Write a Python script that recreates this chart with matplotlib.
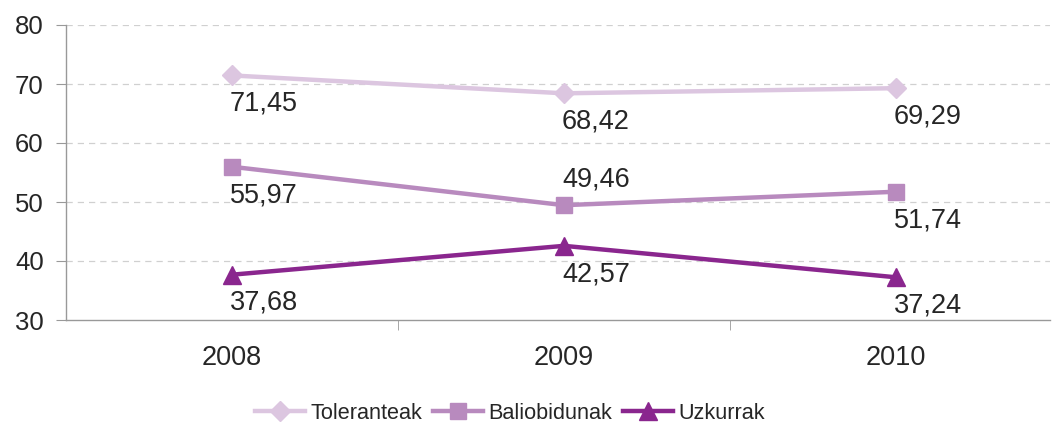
import matplotlib
matplotlib.use("Agg")
import matplotlib.pyplot as plt
from matplotlib.lines import Line2D

years = ["2008", "2009", "2010"]
toleranteak = [71.45, 68.42, 69.29]
baliobidunak = [55.97, 49.46, 51.74]
uzkurrak = [37.68, 42.57, 37.24]
series_names = ["Toleranteak", "Baliobidunak", "Uzkurrak"]
colors = ["#DCC6E0", "#B88ABE", "#8A268E"]
markers = ["D", "s", "^"]
# label placement: +1 above, -1 below
label_pos = [[-1, -1, -1], [-1, 1, -1], [-1, -1, -1]]

plt.rcParams['font.family'] = ['Liberation Sans', 'DejaVu Sans']

fig = plt.figure(figsize=(10.52, 4.25), dpi=100)
ax = fig.add_axes([66/1052, 105/425, (1050-66)/1052, 295/425])

x = list(range(len(years)))
msizes = [10, 12, 13]
for vals, name, c, m, pos, ms in zip([toleranteak, baliobidunak, uzkurrak], series_names, colors, markers, label_pos, msizes):
    ax.plot(x, vals, color=c, lw=3.2, marker=m, markersize=ms, label=name, zorder=3)
    for xi, v, p in zip(x, vals, pos):
        txt = f"{v:.2f}".replace(".", ",")
        if p < 0:
            ax.annotate(txt, (xi, v), xytext=(-1.5, -11), textcoords="offset points",
                        ha="left", va="top", fontsize=19.5, color="#262626")
        else:
            ax.annotate(txt, (xi, v), xytext=(-1.5, 9), textcoords="offset points",
                        ha="left", va="bottom", fontsize=19.5, color="#262626")

ax.set_ylim(30, 80)
ax.set_xlim(-0.5, -0.5 + (1050-66)/332)
ax.set_yticks([30, 40, 50, 60, 70, 80])
ax.set_xticks(x)
ax.set_xticklabels(years)
ax.set_xticks([0.5, 1.5], minor=True)
ax.tick_params(axis='x', which='major', length=0, pad=18, labelsize=19.5, labelcolor="#262626")
ax.tick_params(axis='x', which='minor', length=7, color="#999999", direction='out')
ax.tick_params(axis='y', length=7, color="#999999", labelsize=18.5, labelcolor="#262626", pad=9)

for yv in [40, 50, 60, 70, 80]:
    ax.axhline(yv, color="#D0D0D0", lw=0.9, ls=(0, (5, 4)), zorder=1)

for s in ["top", "right"]:
    ax.spines[s].set_visible(False)
ax.spines["left"].set_color("#999999")
ax.spines["bottom"].set_color("#999999")
ax.spines["left"].set_linewidth(1)
ax.spines["bottom"].set_linewidth(1)

handles = [Line2D([0], [0], color=c, lw=3.2, marker=m, markersize=ms)
           for c, m, ms in zip(colors, markers, [10, 12, 13])]
fig.legend(handles, series_names, loc="center", bbox_to_anchor=(0.485, 0.028),
           ncol=3, frameon=False, fontsize=15.6, labelcolor="#262626",
           handlelength=2.3, columnspacing=0.5, handletextpad=0.25)

fig.savefig("out.png", dpi=100)
